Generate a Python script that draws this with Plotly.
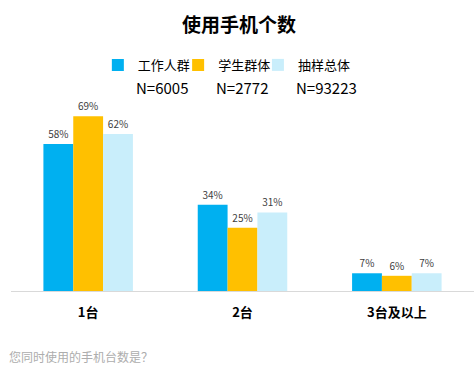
import plotly.graph_objects as go

categories = ["1台", "2台", "3台及以上"]
series_names = ["工作人群", "学生群体", "抽样总体"]
sample_sizes = ["N=6005", "N=2772", "N=93223"]
work = [58, 34, 7]
student = [69, 25, 6]
total = [62, 31, 7]
colors = ["#00B0F0", "#FFC000", "#C9EEFB"]

font_family = "Noto Sans CJK SC, Microsoft YaHei, sans-serif"

legend_ids = ["legend", "legend2", "legend3"]
legend_x = [0.206, 0.375, 0.543]

fig = go.Figure()
for name, vals, col, lid in zip(series_names, [work, student, total], colors, legend_ids):
    fig.add_trace(go.Bar(
        x=categories, y=vals, name=name, marker_color=col,
        marker_line_width=0, legend=lid,
        text=[f"{v}%" for v in vals], textposition="outside",
        textfont=dict(size=10, color="#404040"), cliponaxis=False,
    ))

legend_style = dict(orientation="h", xanchor="left", xref="container",
                    y=0.824, yanchor="middle", yref="container",
                    font=dict(size=13, color="#000000"), itemwidth=30,
                    bgcolor="rgba(0,0,0,0)")

fig.update_layout(
    width=475, height=369,
    margin=dict(l=11, r=1, t=100, b=78, autoexpand=False),
    paper_bgcolor="white", plot_bgcolor="white",
    font=dict(family=font_family),
    barmode="group", bargap=0.42, bargroupgap=0,
    title=dict(text="<b>使用手机个数</b>", x=0.503, xanchor="center", y=0.932, yanchor="middle",
               font=dict(size=19, color="#000000")),
    showlegend=True,
)
for lid, lx in zip(legend_ids, legend_x):
    fig.update_layout({lid: dict(x=lx, **legend_style)})

fig.update_xaxes(showline=True, linecolor="#D9D9D9", linewidth=1, ticks="",
                 tickfont=dict(size=13, color="#000000"), ticklabelstandoff=9,
                 tickvals=categories, ticktext=[f"<b>{c}</b>" for c in categories])
fig.update_yaxes(visible=False, range=[0, 75.4])

ann_x = [0.266, 0.4385, 0.611]
for i, s in enumerate(sample_sizes):
    fig.add_annotation(text=s, xref="paper", yref="paper", x=ann_x[i], y=1.0654,
                       xanchor="left", yanchor="middle", showarrow=False,
                       font=dict(size=15, color="#000000"))

fig.add_annotation(text="您同时使用的手机台数是？", xref="paper", yref="paper",
                   x=-0.008, y=-0.3455, xanchor="left", yanchor="middle", showarrow=False,
                   font=dict(size=12, color="#ADADAD"))

fig.write_html("out.html", config={"displayModeBar": False},
               post_script="document.body.style.margin='0';")
